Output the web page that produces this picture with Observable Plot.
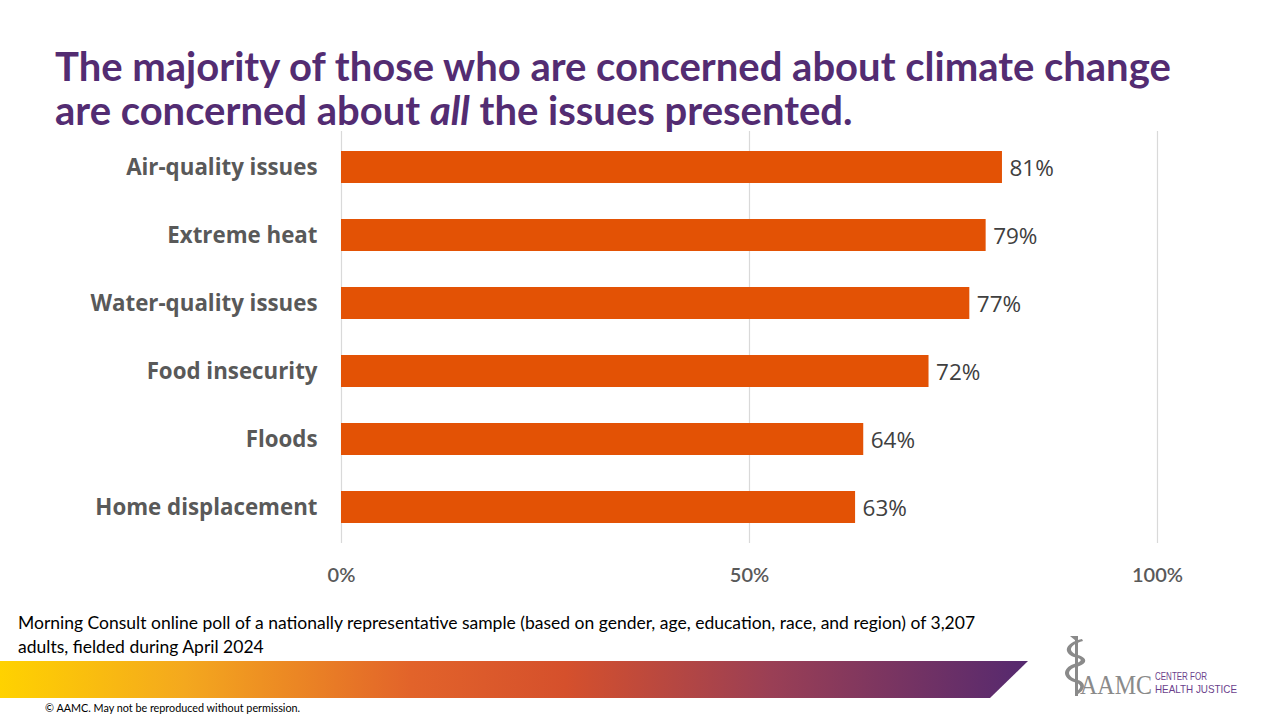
<!DOCTYPE html>
<html>
<head>
<meta charset="utf-8">
<script src="https://cdn.jsdelivr.net/npm/d3@7"></script>
<script src="https://cdn.jsdelivr.net/npm/@observablehq/plot@0.6"></script>
<style>
  html, body { margin: 0; padding: 0; background: #fff; }
  #page { position: relative; width: 1280px; height: 720px; overflow: hidden; font-family: Lato, "Open Sans", sans-serif; }
  #title { position: absolute; left: 55px; top: 44px; margin: 0; font-family: Lato, sans-serif; font-weight: 700; font-size: 40px; line-height: 44px; color: #532C72; }
  #chart { position: absolute; left: 0; top: 100px; }
  #note { position: absolute; left: 18px; top: 611px; font-family: Lato, sans-serif; font-size: 17.5px; line-height: 24px; color: #000; }
  #copy { position: absolute; left: 45px; top: 701px; font-family: Lato, sans-serif; font-size: 10.8px; color: #000; }
  #deco { position: absolute; left: 0; top: 0; }
</style>
</head>
<body>
<div id="page">
  <svg id="deco" width="1280" height="720">
    <defs>
      <linearGradient id="grad" x1="0" x2="1" y1="0" y2="0">
        <stop offset="0" stop-color="#FFD200"/>
        <stop offset="0.18" stop-color="#F4A81E"/>
        <stop offset="0.40" stop-color="#E2632A"/>
        <stop offset="0.55" stop-color="#D5502C"/>
        <stop offset="0.75" stop-color="#9A3F55"/>
        <stop offset="1" stop-color="#55296F"/>
      </linearGradient>
    </defs>
    <polygon points="0,661 1028,661 990,698 0,698" fill="url(#grad)"/>
    <!-- logo -->
    <g fill="#8A8A8A">
      <rect x="1075" y="636" width="3" height="60"/>
      <path d="M1070,636 L1078,636 L1076,641 Z"/>
      <path d="M1083,641 C1068,645 1068,652 1078,655 C1088,658 1088,664 1076,667 C1066,670 1067,677 1078,680 C1087,683 1085,690 1078,694 L1076,692 C1082,688 1082,684 1074,682 C1062,678 1062,668 1074,664 C1083,661 1083,659 1074,657 C1063,653 1064,643 1082,639 Z"/>
    </g>
    <text x="1080" y="694" font-family="'Liberation Serif', 'DejaVu Serif', serif" font-size="27" fill="#8A8A8A" textLength="72" lengthAdjust="spacingAndGlyphs">AAMC</text>
    <text x="1155" y="680" font-family="'Liberation Sans Narrow', 'Liberation Sans', sans-serif" font-size="11" fill="#6B3F8C" textLength="52" lengthAdjust="spacingAndGlyphs">CENTER FOR</text>
    <text x="1155" y="693" font-family="'Liberation Sans Narrow', 'Liberation Sans', sans-serif" font-size="11" fill="#6B3F8C" textLength="82" lengthAdjust="spacingAndGlyphs">HEALTH JUSTICE</text>
  </svg>
  <h1 id="title">The majority of those who are concerned about climate change<br>are concerned about <i>all</i> the issues presented.</h1>
  <div id="chart"></div>
  <div id="note">Morning Consult online poll of a nationally representative sample (based on gender, age, education, race, and region) of 3,207<br>adults, fielded during April 2024</div>
  <div id="copy">© AAMC. May not be reproduced without permission.</div>
</div>
<script>
const issues = ["Air-quality issues", "Extreme heat", "Water-quality issues", "Food insecurity", "Floods", "Home displacement"];
const shares = [81, 79, 77, 72, 64, 63];
const xTicks = [0, 50, 100];

const data = issues.map((issue, i) => ({issue, share: shares[i]}));

const chart = Plot.plot({
  width: 1280,
  height: 500,
  marginTop: 31,
  marginBottom: 57,
  marginLeft: 341,
  marginRight: 123,
  style: { fontFamily: "'Open Sans', Lato, sans-serif", background: "transparent", overflow: "visible" },
  x: { domain: [0, 100], ticks: xTicks, tickFormat: d => d + "%", label: null },
  y: { domain: issues, label: null, paddingInner: 0.53, paddingOuter: 0.28 },
  marks: [
    Plot.ruleX(xTicks, { stroke: "#D9D9D9", strokeWidth: 1.2 }),
    Plot.barX(data, { x: "share", y: "issue", fill: "#E35205" }),
    Plot.text(data, { x: "share", y: "issue", text: d => d.share + "%", textAnchor: "start", dx: 7, dy: 1, fontSize: 22.5, fill: "#404040" }),
    Plot.axisX({ ticks: xTicks, tickFormat: d => d + "%", tickSize: 0, tickPadding: 24, fontSize: 20, fontWeight: 600, fill: "#595959", label: null, fontFamily: "Lato, sans-serif" }),
    Plot.axisY({ tickSize: 0, tickPadding: 24, fontSize: 22.3, fontWeight: 700, fill: "#595959", label: null })
  ]
});
document.getElementById("chart").appendChild(chart);
</script>
</body>
</html>
